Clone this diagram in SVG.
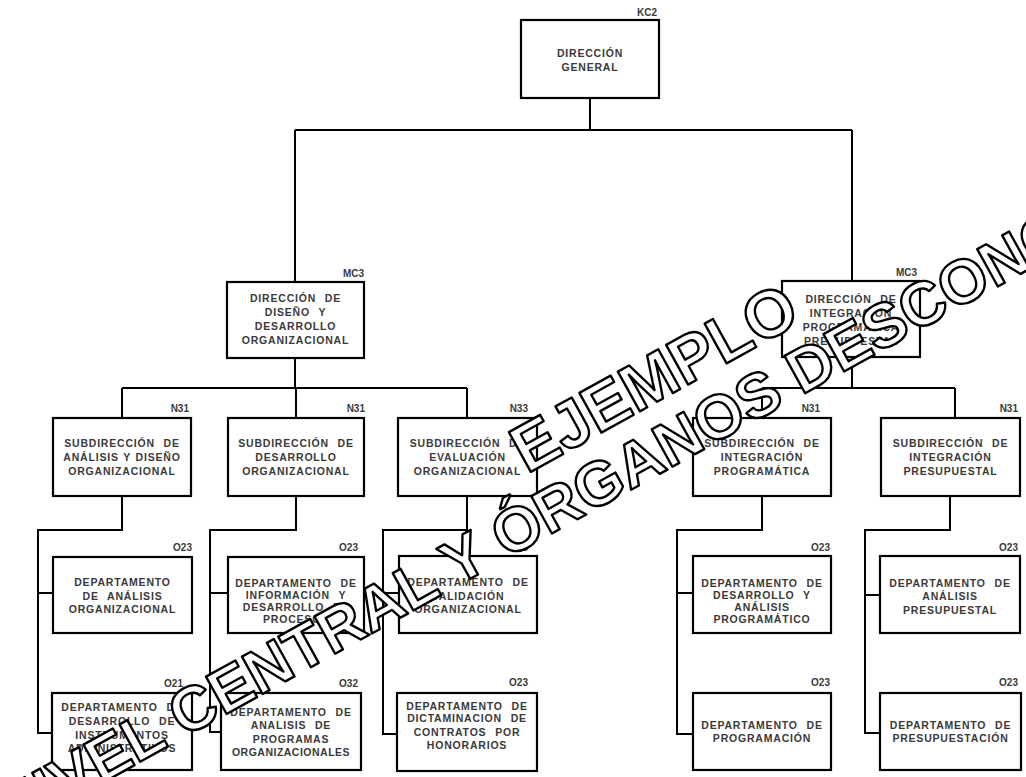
<svg xmlns="http://www.w3.org/2000/svg" width="1026" height="777" viewBox="0 0 1026 777">
<style>
.box{fill:#fff;stroke:#000;stroke-width:2.2}
.t{font-family:"Liberation Sans",Arial,sans-serif;font-weight:bold;font-size:10.5px;fill:#3a3a3a;text-anchor:middle;letter-spacing:0.8px;word-spacing:5px}
.lb{font-family:"Liberation Sans",Arial,sans-serif;font-weight:bold;font-size:10px;fill:#3a3a3a;text-anchor:end}
.c{fill:none;stroke:#000;stroke-width:2}
.wm{font-family:"Liberation Sans",Arial,sans-serif;font-weight:bold;font-size:62px;fill:#fff;stroke:#000;stroke-width:2.4;stroke-linejoin:round}
</style>
<rect width="1026" height="777" fill="#fff"/>
<g id="connectors">
<path class="c" d="M590 98V130M295 130H852M295 130V282M852 130V281"/>
<path class="c" d="M295 358V388M122 388H467M122 388V418M296 388V418M467 388V418"/>
<path class="c" d="M852 357V388M762 388H955M762 388V418M955 388V418"/>
<path class="c" d="M122 496V530H38V733H52M38 593H53"/>
<path class="c" d="M296 496V530H210V732H221M210 593H228"/>
<path class="c" d="M467 496V530H383V734H397M383 593H399"/>
<path class="c" d="M762 496V530H677V734H693M677 593H693"/>
<path class="c" d="M950 496V530H865V733H880M865 595H880"/>
</g>
<g id="dg">
<rect class="box" x="521" y="20" width="138" height="78"/>
<text class="lb" x="657" y="16">KC2</text>
<text class="t" x="590" y="57">DIRECCIÓN</text>
<text class="t" x="590" y="71">GENERAL</text>
</g>
<g id="ddo">
<rect class="box" x="227" y="282" width="137" height="76"/>
<text class="lb" x="364" y="277">MC3</text>
<text class="t" x="295.5" y="302">DIRECCIÓN DE</text>
<text class="t" x="295.5" y="316">DISEÑO Y</text>
<text class="t" x="295.5" y="330">DESARROLLO</text>
<text class="t" x="295.5" y="344">ORGANIZACIONAL</text>
</g>
<g id="dipp">
<rect class="box" x="782" y="281" width="138" height="76"/>
<text class="lb" x="917" y="276">MC3</text>
<text class="t" x="851" y="303">DIRECCIÓN DE</text>
<text class="t" x="851" y="317">INTEGRACIÓN</text>
<text class="t" x="851" y="331">PROGRAMÁTICA</text>
<text class="t" x="851" y="345">PRESUPUESTAL</text>
</g>
<g id="s1">
<rect class="box" x="53" y="418" width="138" height="78"/>
<text class="lb" x="189" y="412">N31</text>
<text class="t" x="122" y="447">SUBDIRECCIÓN DE</text>
<text class="t" x="122" y="461" style="word-spacing:1px">ANÁLISIS Y DISEÑO</text>
<text class="t" x="122" y="475">ORGANIZACIONAL</text>
</g>
<g id="s2">
<rect class="box" x="228" y="418" width="136" height="78"/>
<text class="lb" x="365" y="412">N31</text>
<text class="t" x="296" y="447">SUBDIRECCIÓN DE</text>
<text class="t" x="296" y="461">DESARROLLO</text>
<text class="t" x="296" y="475">ORGANIZACIONAL</text>
</g>
<g id="s3">
<rect class="box" x="398" y="418" width="139" height="78"/>
<text class="lb" x="528" y="412">N33</text>
<text class="t" x="467.5" y="447">SUBDIRECCIÓN DE</text>
<text class="t" x="467.5" y="461">EVALUACIÓN</text>
<text class="t" x="467.5" y="475">ORGANIZACIONAL</text>
</g>
<g id="s4">
<rect class="box" x="693" y="418" width="138" height="78"/>
<text class="lb" x="820" y="412">N31</text>
<text class="t" x="762" y="447">SUBDIRECCIÓN DE</text>
<text class="t" x="762" y="461">INTEGRACIÓN</text>
<text class="t" x="762" y="475">PROGRAMÁTICA</text>
</g>
<g id="s5">
<rect class="box" x="881" y="418" width="139" height="78"/>
<text class="lb" x="1018" y="412">N31</text>
<text class="t" x="950.5" y="447">SUBDIRECCIÓN DE</text>
<text class="t" x="950.5" y="461">INTEGRACIÓN</text>
<text class="t" x="950.5" y="475">PRESUPUESTAL</text>
</g>
<g id="d1">
<rect class="box" x="53" y="557" width="139" height="76"/>
<text class="lb" x="192" y="551">O23</text>
<text class="t" x="122.5" y="586">DEPARTAMENTO</text>
<text class="t" x="122.5" y="600">DE ANÁLISIS</text>
<text class="t" x="122.5" y="613">ORGANIZACIONAL</text>
</g>
<g id="d2">
<rect class="box" x="228" y="557" width="136" height="76"/>
<text class="lb" x="358" y="551">O23</text>
<text class="t" x="296" y="587">DEPARTAMENTO DE</text>
<text class="t" x="296" y="599">INFORMACIÓN Y</text>
<text class="t" x="296" y="611">DESARROLLO DE</text>
<text class="t" x="296" y="623">PROCESOS</text>
</g>
<g id="d3">
<rect class="box" x="399" y="556" width="138" height="77"/>
<text class="lb" x="528" y="551">O23</text>
<text class="t" x="468" y="586">DEPARTAMENTO DE</text>
<text class="t" x="468" y="600">VALIDACIÓN</text>
<text class="t" x="468" y="613">ORGANIZACIONAL</text>
</g>
<g id="d4">
<rect class="box" x="693" y="556" width="138" height="77"/>
<text class="lb" x="830" y="551">O23</text>
<text class="t" x="762" y="587">DEPARTAMENTO DE</text>
<text class="t" x="762" y="599">DESARROLLO Y</text>
<text class="t" x="762" y="611">ANÁLISIS</text>
<text class="t" x="762" y="623">PROGRAMÁTICO</text>
</g>
<g id="d5">
<rect class="box" x="880" y="556" width="140" height="77"/>
<text class="lb" x="1018" y="551">O23</text>
<text class="t" x="950" y="587">DEPARTAMENTO DE</text>
<text class="t" x="950" y="600">ANÁLISIS</text>
<text class="t" x="950" y="614">PRESUPUESTAL</text>
</g>
<g id="e1">
<rect class="box" x="52" y="693" width="140" height="77"/>
<text class="lb" x="183" y="687">O21</text>
<text class="t" x="122" y="711">DEPARTAMENTO DE</text>
<text class="t" x="122" y="725">DESARROLLO DE</text>
<text class="t" x="122" y="739">INSTRUMENTOS</text>
<text class="t" x="122" y="752">ADMINISTRATIVOS</text>
</g>
<g id="e2">
<rect class="box" x="221" y="693" width="140" height="77"/>
<text class="lb" x="358" y="687">O32</text>
<text class="t" x="291" y="716">DEPARTAMENTO DE</text>
<text class="t" x="291" y="729">ANALISIS DE</text>
<text class="t" x="291" y="743">PROGRAMAS</text>
<text class="t" x="291" y="756" style="letter-spacing:0.5px">ORGANIZACIONALES</text>
</g>
<g id="e3">
<rect class="box" x="397" y="693" width="140" height="78"/>
<text class="lb" x="528" y="686">O23</text>
<text class="t" x="467" y="710">DEPARTAMENTO DE</text>
<text class="t" x="467" y="722">DICTAMINACION DE</text>
<text class="t" x="467" y="736">CONTRATOS POR</text>
<text class="t" x="467" y="749">HONORARIOS</text>
</g>
<g id="e4">
<rect class="box" x="693" y="693" width="138" height="77"/>
<text class="lb" x="830" y="686">O23</text>
<text class="t" x="762" y="729">DEPARTAMENTO DE</text>
<text class="t" x="762" y="742">PROGRAMACIÓN</text>
</g>
<g id="e5">
<rect class="box" x="880" y="693" width="141" height="77"/>
<text class="lb" x="1018" y="686">O23</text>
<text class="t" x="950.5" y="729">DEPARTAMENTO DE</text>
<text class="t" x="950.5" y="742">PRESUPUESTACIÓN</text>
</g>
<g id="watermark">
<text class="wm" transform="translate(527 474) rotate(-29)" style="font-size:66px">EJEMPLO</text>
<text class="wm" transform="translate(10 834) rotate(-29)">NIVEL CENTRAL Y ÓRGANOS DESCONCENTRADOS</text>
</g>
</svg>
